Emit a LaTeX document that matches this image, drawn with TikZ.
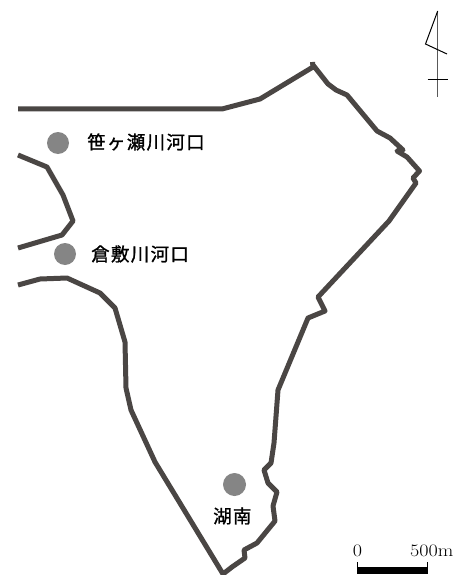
\documentclass[tikz,border=0pt]{standalone}
\usepackage{fontspec}
\usepackage{graphicx}
\newfontfamily\cjk[LetterSpace=7,FakeBold=1.2]{Noto Sans CJK JP}
\tikzset{
  shore/.style={draw=shorecol,line width=5pt,line join=round,line cap=butt},
  site/.style={circle,fill=sitecol,draw=none,minimum size=22pt,inner sep=0pt},
  place/.style={anchor=west,inner sep=0pt,text=black,font=\cjk\fontsize{18.5}{18.5}\selectfont},
  scalelab/.style={inner sep=0pt,text=black,font=\fontsize{17.5}{17.5}\selectfont},
  north/.style={draw=black,line width=1pt}
}
\definecolor{shorecol}{HTML}{4A4644}
\definecolor{sitecol}{HTML}{858585}
\begin{document}
\begin{tikzpicture}[x=1pt,y=-1pt]
\useasboundingbox (0,0) rectangle (463,575);
\fill[white] (0,0) rectangle (463,575);
% main shoreline
\draw[shore] (18,109) -- (222,109) -- (260,99) -- (313,67) -- (312.5,62) (313,65) -- (328,84) -- (336,90) -- (347,95) -- (377,131) -- (390,138) -- (403,150) -- (397,151) -- (407,157) -- (419.5,171) -- (413,178) -- (416,183) -- (389,221) -- (318,297) -- (325,311) -- (308,318) -- (278,390) -- (274,443) -- (271,463) -- (264,470) -- (268,483) -- (277,492) -- (273,506) -- (275,521) -- (257,543) -- (244,550) -- (245,558) -- (232,567) -- (223,574) -- (155,462) -- (131,410) -- (126,388) -- (125,342) -- (115,308) -- (100,293) -- (67,278) -- (40,279) -- (18,285);
% inlet
\draw[shore] (18,155) -- (47,167) -- (63,195) -- (73,221) -- (62,235) -- (18,248);
% sites
\node[site] (s1) at (58,143) {};
\node[site] (s2) at (65,254) {};
\node[site,minimum size=23pt] (s3) at (234.5,484.5) {};
\node[place] (t1) at (87,142) {笹ヶ瀬川河口};
\node[place] (t2) at (91,254) {倉敷川河口};
\node[place] (t3) at (213,516) {湖南};
% north mark
\draw[draw=black!65,line width=1.1pt] (437.7,11) -- (437.7,97);
\draw[north] (437.7,11) -- (425.5,44) -- (447,54);
\draw[north] (427.5,80) -- (448,80);
% scale
\fill[black] (357,567) rectangle (428,573.5);
\draw[black,line width=1pt] (357.5,562) -- (357.5,568) (427.5,562) -- (427.5,568);
\node[scalelab] (z) at (357.5,551) {\scalebox{1.15}[1]{0}};
\node[scalelab,anchor=west] (f) at (410,551) {\scalebox{1.15}[1]{500m}};
\end{tikzpicture}
\end{document}
